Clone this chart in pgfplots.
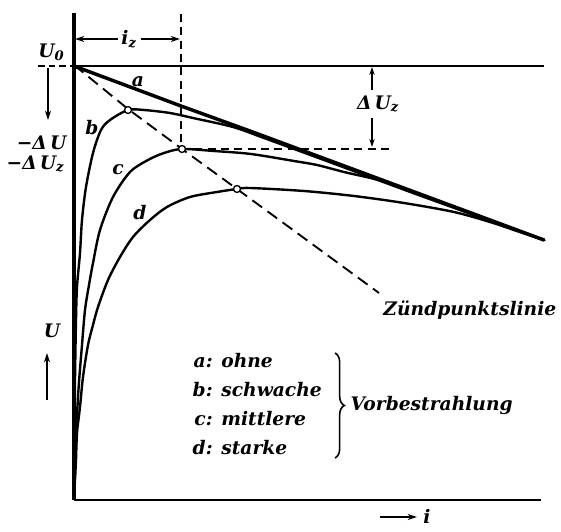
\documentclass[border=0pt]{standalone}
\usepackage{fontspec}
\setmainfont{DejaVu Serif}
\usepackage{pgfplots}
\pgfplotsset{compat=1.18}
\usetikzlibrary{arrows.meta,decorations.pathreplacing}

\begin{document}
\begin{tikzpicture}[font=\fontsize{14}{16}\selectfont\bfseries\itshape]
\begin{axis}[
  scale only axis, width=350.25pt, height=365.25pt,
  xmin=0, xmax=467, ymin=0, ymax=487,
  axis lines*=left,
  x axis line style={line width=2pt},
  y axis line style={line width=2.5pt},
  xtick=\empty, ytick=\empty,
  clip=false,
]
% bounding box of the reference
\path (axis cs:-74,-32) rectangle (axis cs:487,500);

% U0 level
\addplot[line width=1.2pt] coordinates {(0,434) (470,434)};
\addplot[line width=1pt, dash pattern=on 5pt off 3pt] coordinates {(-36,434) (0,434)};
% i_z / Delta U_z guides
\addplot[line width=1pt, dash pattern=on 6pt off 4pt] coordinates {(107,486) (107,351)};
\addplot[line width=1pt, dash pattern=on 6pt off 4pt] coordinates {(107,351) (318,351)};
% Zuendpunktslinie
\addplot[line width=1.4pt, dash pattern=on 9pt off 5pt] coordinates {(0,435) (54,391) (108,351) (163,311) (305,207)};

% a: ohne
\addplot[line width=2.6pt, line cap=round] coordinates {(0,434) (107,394) (176,369) (470,260)};
% b: schwache
\addplot[line width=1.8pt, smooth, tension=0.5] coordinates {
(0,0) (0.5,60) (1,120) (2,180) (3,213) (6,247) (8,280) (12,313) (19,347) (27,370) (36,380)
(54,390) (70,390) (96,387) (119,382) (159,373) (190,362) (250,340) (350,303) (470,260)};
% c: mittlere
\addplot[line width=1.8pt, smooth, tension=0.5] coordinates {
(0,0) (1,30) (2,60) (3,85) (5,118) (8,155) (11,190) (15,215) (19,237) (26,270) (39,303)
(56,328) (74,340) (90,347) (108,351)
(140,349) (177,346) (220,339) (243,335) (270,328) (318,316) (400,285) (470,260)};
% d: starke
\addplot[line width=1.8pt, smooth, tension=0.5] coordinates {
(0,0) (1,20) (2,40) (3,67) (6,93) (9,123) (14,155) (19,175) (24,193) (34,220) (46,243)
(59,263) (76,280) (93,293) (116,303) (143,308) (163,311)
(176,312) (230,309) (280,304) (330,297) (380,288) (416,278) (440,270) (470,260)};

% ignition points
\addplot[only marks, mark=*, mark size=2.6pt, mark options={fill=white, draw=black, line width=1pt}]
coordinates {(54,390) (108,351) (163,311)};

% arrows
\draw[-{Stealth[length=7pt,width=4.5pt]}, line width=1pt] (axis cs:-26,432) -- (axis cs:-26,380);
\draw[-{Stealth[length=7pt,width=4.5pt]}, line width=1pt] (axis cs:-27,100) -- (axis cs:-27,147);
\draw[-{Stealth[length=7pt,width=4.5pt]}, line width=1pt] (axis cs:44,461) -- (axis cs:1,461);
\draw[-{Stealth[length=7pt,width=4.5pt]}, line width=1pt] (axis cs:67,461) -- (axis cs:106,461);
\draw[-{Stealth[length=6pt,width=4pt]}, line width=1pt] (axis cs:298,410) -- (axis cs:298,433);
\draw[-{Stealth[length=6pt,width=4pt]}, line width=1pt] (axis cs:298,382) -- (axis cs:298,353);
\draw[-{Stealth[length=7pt,width=4.5pt]}, line width=1pt] (axis cs:306,-17) -- (axis cs:343,-17);

% labels
\node[anchor=east] at (axis cs:-5,448) {U\textsubscript{0}};
\node[anchor=east] at (axis cs:-3,357) {−Δ\,U};
\node[anchor=east] at (axis cs:-5,336) {−Δ\,U\textsubscript{z}};
\node at (axis cs:-22,169) {U};
\node at (axis cs:55,461) {i\textsubscript{z}};
\node at (axis cs:304,396) {Δ\,U\textsubscript{z}};
\node at (axis cs:353,-16) {i};
\node at (axis cs:64,418) {a};
\node at (axis cs:18,372) {b};
\node at (axis cs:44,330) {c};
\node at (axis cs:66,287) {d};
\node[anchor=east] at (axis cs:487,190) {Zündpunktslinie};

% legend block
\node[anchor=west] at (axis cs:114,95) {\renewcommand\arraystretch{1.36}%
\begin{tabular}{@{}r@{: }l@{}} a & ohne\\ b & schwache\\ c & mittlere\\ d & starke\end{tabular}};
\draw[decorate, decoration={brace, amplitude=7pt}, line width=1.2pt] (axis cs:261,147) -- (axis cs:261,42);
\node[anchor=west] at (axis cs:272,95) {Vorbestrahlung};
\end{axis}
\end{tikzpicture}
\end{document}
